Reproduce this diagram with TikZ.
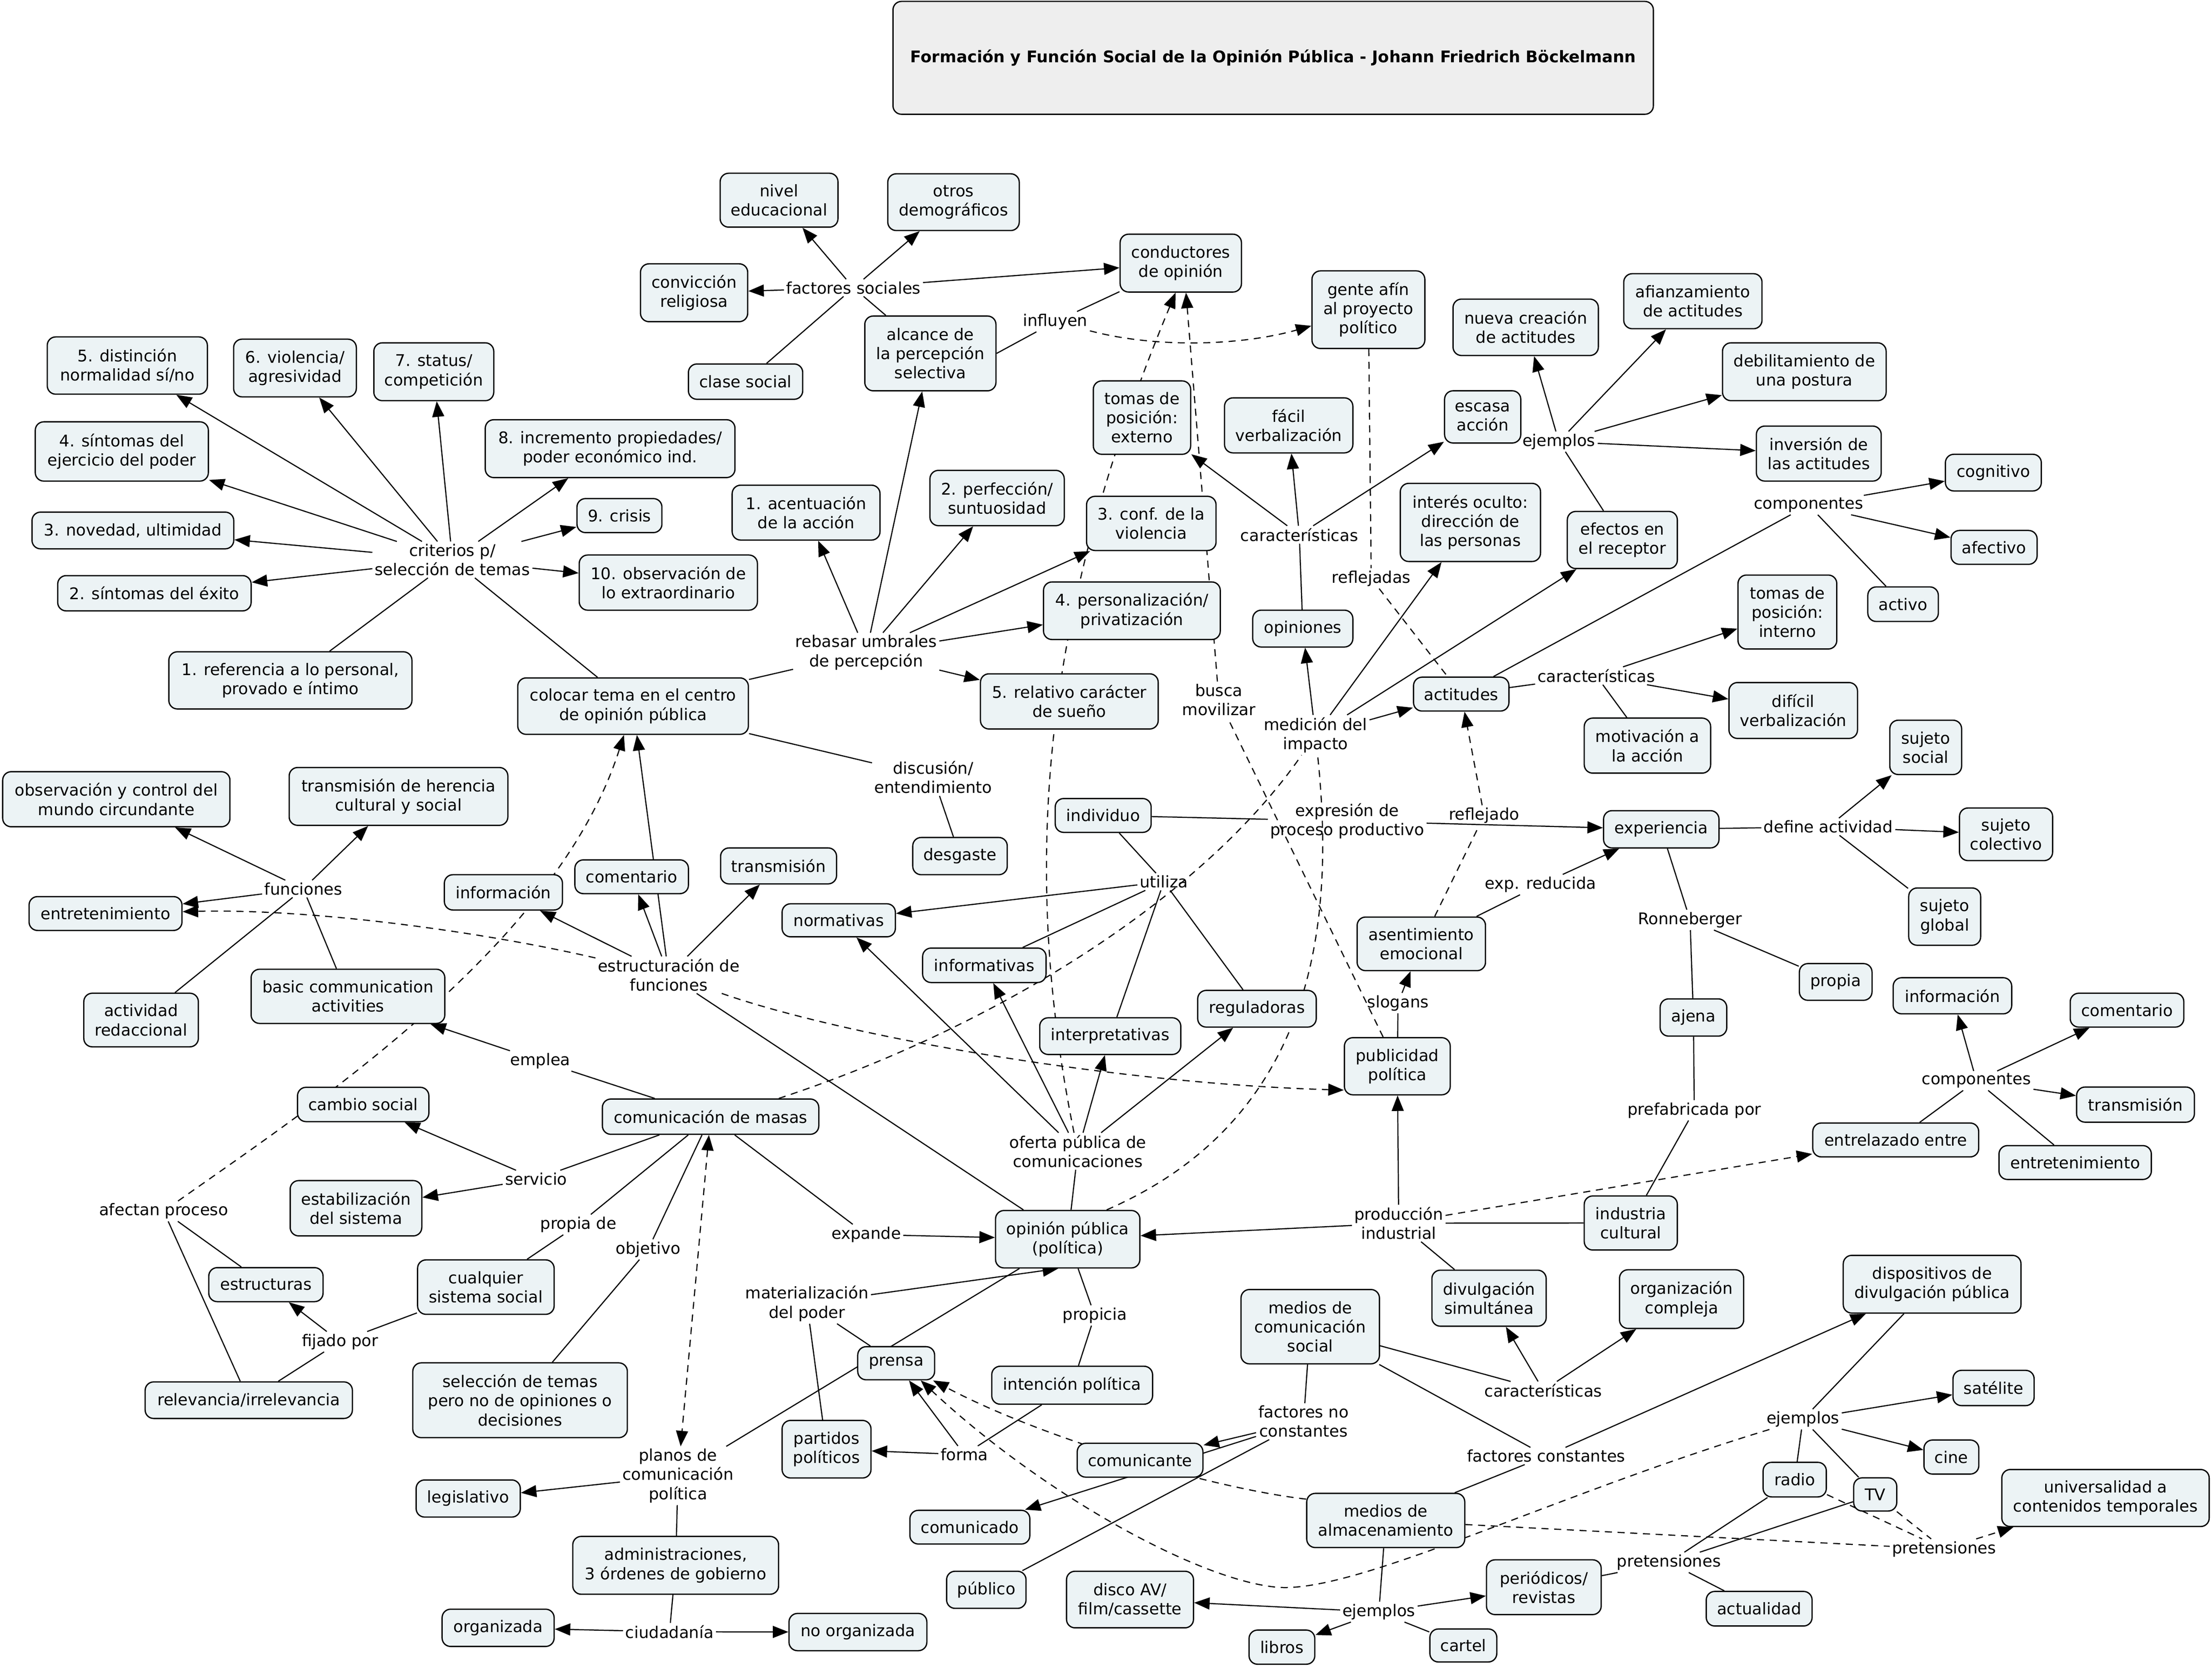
\documentclass[tikz,border=0pt]{standalone}
\usepackage{fontspec}
\setmainfont{DejaVu Sans}
\usetikzlibrary{arrows.meta}
\definecolor{cfill}{RGB}{236,243,245}
\definecolor{tfill}{RGB}{238,238,238}
\newcommand{\cf}{\fontsize{11.4pt}{13.6pt}\selectfont}
\pgfdeclarelayer{bg}\pgfdeclarelayer{edges}\pgfsetlayers{bg,edges,main}
\tikzset{
 cpt/.style={draw=black, line width=0.9pt, rounded corners=6pt, fill=cfill, align=center, inner sep=2pt, font=\cf},
 lbl/.style={align=center, inner sep=1.5pt, font=\cf},
 ln/.style={line width=0.8pt},
 ar/.style={line width=0.8pt, -{Triangle[length=11pt,width=8.5pt]}},
 dl/.style={line width=0.8pt, dash pattern=on 5pt off 4pt},
 dar/.style={dl, -{Triangle[length=11pt,width=8.5pt]}},
 dbar/.style={dl, {Triangle[length=11pt,width=8.5pt]}-{Triangle[length=11pt,width=8.5pt]}},
}
\newcommand{\mkC}[6]{%
 \pgfmathsetmacro{\myCx}{(#2+#4)/2}\pgfmathsetmacro{\myCy}{(#3+#5)/2}%
 \pgfmathsetmacro{\myCw}{#4-#2}\pgfmathsetmacro{\myCh}{#5-#3}%
 \node[cpt, minimum width=\myCw pt, minimum height=\myCh pt] (#1) at (\myCx,\myCy) {#6};}
\begin{document}
\begin{tikzpicture}[x=1pt,y=-1pt]
\useasboundingbox (0,0) rectangle (1568,1182);
\begin{pgfonlayer}{bg}
\fill[white] (0,0) rectangle (1568,1182);
\end{pgfonlayer}
% title
\node[draw=black, line width=0.9pt, rounded corners=6pt, fill=tfill, minimum width=539pt, minimum height=80pt, font=\cf\bfseries] (title) at (902.5,41) {Formación y Función Social de la Opinión Pública - Johann Friedrich Böckelmann};
% concepts
\mkC{t5}{33.5}{238.8}{147}{279.4}{5. distinción\\normalidad sí/no}
\mkC{t6}{165.6}{240.4}{252.6}{281.3}{6. violencia/\\agresividad}
\mkC{t7}{265}{243}{350}{284}{7. status/\\competición}
\mkC{t4}{25}{299}{147.7}{341}{4. síntomas del\\ejercicio del poder}
\mkC{t8}{344}{297.5}{521}{338.5}{8. incremento propiedades/\\poder económico ind.}
\mkC{t3}{22.7}{363}{165.7}{389}{3. novedad, ultimidad}
\mkC{t9}{409}{353.4}{469.2}{377.5}{9. crisis}
\mkC{t2}{40.9}{408}{178}{433}{2. síntomas del éxito}
\mkC{t10}{410.6}{393.4}{536.9}{432.5}{10. observación de\\lo extraordinario}
\mkC{t1}{119.7}{462}{292}{502.5}{1. referencia a lo personal,\\provado e íntimo}
\mkC{nivel}{510.5}{122.8}{594}{161}{nivel\\educacional}
\mkC{otros}{629.3}{123.2}{722.5}{163.4}{otros\\demográficos}
\mkC{conv}{454}{187}{530}{228}{convicción\\religiosa}
\mkC{clase}{488}{258}{569}{283}{clase social}
\mkC{alcance}{613}{224}{706}{277}{alcance de\\la percepción\\selectiva}
\mkC{cond}{794}{166}{880}{207}{conductores\\de opinión}
\mkC{gente}{930}{192}{1010}{247}{gente afín\\al proyecto\\político}
\mkC{tomasExt}{775}{270}{844}{322}{tomas de\\posición:\\externo}
\mkC{facil}{868}{282}{959}{321}{fácil\\verbalización}
\mkC{escasa}{1024}{277}{1078}{314}{escasa\\acción}
\mkC{nueva}{1030}{212}{1133}{252}{nueva creación\\de actitudes}
\mkC{afianz}{1151}{194}{1249}{233}{afianzamiento\\de actitudes}
\mkC{debil}{1221}{243}{1337}{284}{debilitamiento de\\una postura}
\mkC{invers}{1245}{302}{1333.5}{341}{inversión de\\las actitudes}
\mkC{interes}{992.6}{342.6}{1092}{398}{interés oculto:\\dirección de\\las personas}
\mkC{efectos}{1111}{362.5}{1189}{403}{efectos en\\el receptor}
\mkC{cogn}{1379}{322}{1447}{348}{cognitivo}
\mkC{afect}{1383}{376}{1444}{400}{afectivo}
\mkC{activo}{1324}{416}{1374}{440.5}{activo}
\mkC{acent}{519}{343.9}{623.8}{382.8}{1. acentuación\\de la acción}
\mkC{perf}{659.2}{333.4}{754.4}{372.6}{2. perfección/\\suntuosidad}
\mkC{conf}{770.2}{351.8}{862}{390.2}{3. conf. de la\\violencia}
\mkC{person}{739.7}{412.5}{865}{453.3}{4. personalización/\\privatización}
\mkC{sueno}{695}{477.6}{821}{516.7}{5. relativo carácter\\de sueño}
\mkC{colocar}{367}{480.5}{530.5}{520.5}{colocar tema en el centro\\de opinión pública}
\mkC{desg}{647}{593.6}{714}{620}{desgaste}
\mkC{opin}{888}{432.5}{959}{458.6}{opiniones}
\mkC{actit}{1002}{480}{1069.6}{504}{actitudes}
\mkC{tomasInt}{1232}{407.6}{1302}{460}{tomas de\\posición:\\interno}
\mkC{dific}{1225.6}{483.8}{1316.7}{523.4}{difícil\\verbalización}
\mkC{motiv}{1123}{509}{1212.6}{548}{motivación a\\la acción}
\mkC{sujSoc}{1339.6}{510.5}{1390.5}{549}{sujeto\\social}
\mkC{sujCol}{1389}{572.7}{1455}{610}{sujeto\\colectivo}
\mkC{sujGlob}{1353}{629.4}{1404}{670}{sujeto\\global}
\mkC{exper}{1136.7}{574.6}{1218.5}{601}{experiencia}
\mkC{propia}{1275.5}{683}{1327}{709}{propia}
\mkC{ajena}{1176.8}{708}{1224}{734.4}{ajena}
\mkC{indus}{1123}{847.7}{1189}{886}{industria\\cultural}
\mkC{asent}{962}{650}{1053}{688}{asentimiento\\emocional}
\mkC{public}{953}{735.5}{1028}{776}{publicidad\\política}
\mkC{indiv}{748}{566}{816}{590}{individuo}
\mkC{norm}{554.4}{640.6}{634.7}{664}{normativas}
\mkC{inform}{654}{672}{741.5}{696.4}{informativas}
\mkC{interp}{737}{721.4}{837}{747.4}{interpretativas}
\mkC{regul}{849}{702}{933}{728}{reguladoras}
\mkC{opPub}{705.7}{858}{808}{898.7}{opinión pública\\(política)}
\mkC{divulg}{1015}{900.3}{1096}{940}{divulgación\\simultánea}
\mkC{organiz}{1148}{900}{1236}{941.6}{organización\\compleja}
\mkC{medCom}{879.7}{914}{977.8}{966.7}{medios de\\comunicación\\social}
\mkC{dispos}{1306.6}{889.8}{1432.6}{930.7}{dispositivos de\\divulgación pública}
\mkC{satel}{1384.4}{971.3}{1441.9}{996.3}{satélite}
\mkC{cine}{1363.8}{1020.7}{1402.7}{1044.8}{cine}
\mkC{radio}{1249.8}{1036.5}{1294.6}{1061}{radio}
\mkC{tv}{1314}{1047.5}{1344.5}{1071}{TV}
\mkC{univ}{1419}{1041.6}{1566}{1082}{universalidad a\\contenidos temporales}
\mkC{actual}{1209.5}{1128}{1284.5}{1152.5}{actualidad}
\mkC{period}{1053.7}{1105.6}{1135}{1144.4}{periódicos/\\revistas}
\mkC{almac}{926.3}{1058.5}{1038.3}{1096.9}{medios de\\almacenamiento}
\mkC{libros}{885.4}{1155.4}{932}{1179.6}{libros}
\mkC{cartel}{1013.6}{1154.6}{1061}{1178}{cartel}
\mkC{disco}{756}{1113.7}{846}{1153.8}{disco AV/\\film/cassette}
\mkC{comunte}{763.6}{1023}{852.7}{1047}{comunicante}
\mkC{comunado}{645}{1070.5}{730}{1094.4}{comunicado}
\mkC{publico}{671}{1113.7}{727.3}{1140}{público}
\mkC{intenc}{703}{968.4}{817}{995.3}{intención política}
\mkC{prensa}{608}{954.5}{662.5}{978}{prensa}
\mkC{partidos}{554.4}{1006.8}{617.4}{1047.6}{partidos\\políticos}
\mkC{legis}{295}{1049}{368.8}{1075.3}{legislativo}
\mkC{admin}{406}{1089}{551.9}{1130}{administraciones,\\3 órdenes de gobierno}
\mkC{organ}{313.4}{1140.6}{392.8}{1167}{organizada}
\mkC{noorg}{559.3}{1143.6}{657}{1170}{no organizada}
\mkC{selec}{292.6}{966}{444.7}{1019}{selección de temas\\pero no de opiniones o\\decisiones}
\mkC{cualq}{296}{893}{392.8}{931.6}{cualquier\\sistema social}
\mkC{comMas}{427}{779}{580.4}{804}{comunicación de masas}
\mkC{estab}{205.7}{836.8}{299}{876}{estabilización\\del sistema}
\mkC{cambio}{210.9}{770.7}{304}{795}{cambio social}
\mkC{basic}{178}{687}{315.3}{725.4}{basic communication\\activities}
\mkC{estruc}{148}{898.5}{229}{922.6}{estructuras}
\mkC{relev}{102.9}{979.5}{249.8}{1005.4}{relevancia/irrelevancia}
\mkC{observ}{1.9}{547}{163}{586}{observación y control del\\mundo circundante}
\mkC{transHer}{205}{544}{360}{585}{transmisión de herencia\\cultural y social}
\mkC{entret}{20.6}{635.5}{129}{659.5}{entretenimiento}
\mkC{activRed}{59.4}{704}{140.6}{742}{actividad\\redaccional}
\mkC{informac}{315}{620}{398.7}{645}{información}
\mkC{coment}{407.5}{609.5}{488}{633.4}{comentario}
\mkC{transm}{510.8}{601}{593}{626.5}{transmisión}
\mkC{info2}{1342}{693}{1426}{718.6}{información}
\mkC{coment2}{1467.5}{704}{1548}{728}{comentario}
\mkC{trans2}{1472}{770.5}{1555.5}{795.4}{transmisión}
\mkC{entret2}{1417}{812}{1525}{836}{entretenimiento}
\mkC{entrel}{1285}{796}{1402.6}{820}{entrelazado entre}
% linking phrases
\node[lbl] (Lcrit) at (320.7,396.7) {criterios p/\\selección de temas};
\node[lbl] (Lfac) at (605,204) {factores sociales};
\node[lbl] (Linf) at (748,228) {influyen};
\node[lbl] (Lreb) at (614,462.5) {rebasar umbrales\\de percepción};
\node[lbl] (Ldisc) at (661.5,551) {discusión/\\entendimiento};
\node[lbl] (Lcar1) at (921,379) {características};
\node[lbl] (Lejem1) at (1105,313) {ejemplos};
\node[lbl] (Lrefl) at (972,410) {reflejadas};
\node[lbl] (Lbusca) at (864,496) {busca\\movilizar};
\node[lbl] (Lmed) at (932.5,521) {medición del\\impacto};
\node[lbl] (Lcomp1) at (1282,358) {componentes};
\node[lbl] (Lcar2) at (1131.5,479) {características};
\node[lbl] (Ldef) at (1296,586) {define actividad};
\node[lbl] (Lronn) at (1198,652) {Ronneberger};
\node[lbl] (Lpref) at (1201,787) {prefabricada por};
\node[lbl] (Lcomp2) at (1401,766) {componentes};
\node[lbl] (Lexpr) at (955,582) {expresión de\\proceso productivo};
\node[lbl] (Lrefj) at (1052,578) {reflejado};
\node[lbl] (Lexpred) at (1092,627) {exp. reducida};
\node[lbl] (Lslog) at (991,711) {slogans};
\node[lbl] (Luti) at (825,625) {utiliza};
\node[lbl] (Lofer) at (764,816) {oferta pública de\\comunicaciones};
\node[lbl] (Lprod) at (991.5,867) {producción\\industrial};
\node[lbl] (Lcar3) at (1094,985.5) {características};
\node[lbl] (Lfnc) at (924,1007.5) {factores no\\constantes};
\node[lbl] (Lfc) at (1096,1032) {factores constantes};
\node[lbl] (Lejem2) at (1278,1006) {ejemplos};
\node[lbl] (Lpret2) at (1378,1098) {pretensiones};
\node[lbl] (Lpret1) at (1183,1107.4) {pretensiones};
\node[lbl] (Lejem3) at (977.4,1142.5) {ejemplos};
\node[lbl] (Lprop) at (776,932.4) {propicia};
\node[lbl] (Lmat) at (572,924) {materialización\\del poder};
\node[lbl] (Lforma) at (683.6,1031) {forma};
\node[lbl] (Lplan) at (480.6,1046) {planos de\\comunicación\\política};
\node[lbl] (Lciud) at (474.6,1156.6) {ciudadanía};
\node[lbl] (Lpropde) at (410,868) {propia de};
\node[lbl] (Lobj) at (459.4,885.6) {objetivo};
\node[lbl] (Lexp) at (614,875) {expande};
\node[lbl] (Lserv) at (380,835.6) {servicio};
\node[lbl] (Lemp) at (383,752) {emplea};
\node[lbl] (Lafec) at (116,858.5) {afectan proceso};
\node[lbl] (Lfij) at (241,951) {fijado por};
\node[lbl] (Lfun) at (215,630) {funciones};
\node[lbl] (Lestr) at (474,691) {estructuración de\\funciones};
% connectors
\begin{pgfonlayer}{edges}
\draw[ln] (colocar) -- (Lcrit);
\draw[ln] (t1) -- (Lcrit);
\foreach \nd in {t5,t6,t7,t4,t3,t2,t8,t9,t10} \draw[ar] (Lcrit) -- (\nd);
\draw[ln] (alcance) -- (Lfac);
\draw[ln] (clase) -- (Lfac);
\foreach \nd in {nivel,otros,conv,cond} \draw[ar] (Lfac) -- (\nd);
\draw[ln] (alcance.east) -- (Linf);
\draw[ln] (Linf) -- (cond);
\draw[dar] (Linf) .. controls (820,247) and (880,245) .. (gente);
\draw[ln] (colocar) -- (Lreb);
\foreach \nd in {alcance,acent,perf,conf,person,sueno} \draw[ar] (Lreb) -- (\nd);
\draw[ln] (colocar) -- (Ldisc);
\draw[ln] (Ldisc) -- (desg);
\draw[ln] (basic) -- (Lfun);
\draw[ln] (activRed) -- (Lfun);
\foreach \nd in {observ,transHer,entret} \draw[ar] (Lfun) -- (\nd);
\draw[ln] (opPub) -- (Lestr);
\foreach \nd in {informac,coment,transm,colocar} \draw[ar] (Lestr) -- (\nd);
\draw[dar] (Lestr) .. controls (340,660) and (220,644) .. (entret);
\draw[dar] (Lestr) .. controls (600,735) and (790,768) .. (public.204);
\draw[dar] (Lafec) .. controls (220,785) and (395,670) .. (colocar);
\draw[ln] (estruc) -- (Lafec);
\draw[ln] (relev) -- (Lafec);
\draw[ln] (cualq) -- (Lfij);
\draw[ln] (relev) -- (Lfij);
\draw[ar] (Lfij) -- (estruc);
\draw[ln] (comMas) -- (Lpropde);
\draw[ln] (Lpropde) -- (cualq);
\draw[ln] (comMas) -- (Lobj);
\draw[ln] (Lobj) -- (selec);
\draw[ln] (comMas) -- (Lserv);
\draw[ar] (Lserv) -- (cambio);
\draw[ar] (Lserv) -- (estab);
\draw[ln] (comMas) -- (Lemp);
\draw[ar] (Lemp) -- (basic);
\draw[ln] (comMas) -- (Lexp);
\draw[ar] (Lexp) -- (opPub);
\draw[dbar] (comMas) -- (Lplan);
\draw[ln] (opPub) -- (Lplan);
\draw[ar] (Lplan) -- (legis);
\draw[ln] (Lplan) -- (admin);
\draw[ln] (admin) -- (Lciud);
\draw[ar] (Lciud) -- (organ);
\draw[ar] (Lciud) -- (noorg);
\draw[ln] (prensa) -- (Lmat);
\draw[ln] (partidos) -- (Lmat);
\draw[ar] (Lmat) -- (opPub.-108);
\draw[ln] (intenc) -- (Lforma);
\draw[ar] (Lforma) -- (partidos);
\draw[ar] (Lforma) -- (prensa);
\draw[ln] (opPub) -- (Lprop);
\draw[ln] (Lprop) -- (intenc);
\draw[ln] (medCom) -- (Lfnc);
\draw[ar] (Lfnc) -- (comunte);
\draw[ar] (Lfnc) -- (comunado);
\draw[ln] (Lfnc) -- (publico);
\draw[ln] (medCom) -- (Lcar3);
\draw[ar] (Lcar3) -- (divulg);
\draw[ar] (Lcar3) -- (organiz);
\draw[ln] (medCom) -- (Lfc);
\draw[ar] (Lfc) -- (dispos);
\draw[ln] (Lfc) -- (almac);
\draw[ln] (dispos) -- (Lejem2);
\draw[ar] (Lejem2) -- (satel);
\draw[ar] (Lejem2) -- (cine);
\draw[ln] (Lejem2) -- (radio);
\draw[ln] (Lejem2) -- (tv);
\draw[dar] (Lejem2) .. controls (1100,1060) and (960,1130) .. (905,1125) .. controls (850,1120) and (740,1060) .. (prensa.-35);
\draw[dar] (almac.165) .. controls (860,1055) and (740,1020) .. (prensa.-25);
\draw[dl] (almac) -- (Lpret2);
\draw[dl] (radio) -- (Lpret2);
\draw[dl] (tv) -- (Lpret2);
\draw[dar] (Lpret2) -- (univ);
\draw[ln] (almac) -- (Lejem3);
\draw[ar] (Lejem3) -- (disco);
\draw[ar] (Lejem3) -- (libros);
\draw[ar] (Lejem3) -- (period);
\draw[ln] (Lejem3) -- (cartel);
\draw[ln] (period) -- (Lpret1);
\draw[ln] (Lpret1) -- (actual);
\draw[ln] (Lpret1) -- (radio);
\draw[ln] (Lpret1) -- (tv);
\draw[dar] (Lofer) .. controls (720,600) and (745,420) .. (cond.-100);
\draw[dl] (public) -- (Lbusca);
\draw[dar] (Lbusca) -- (cond.-80);
\draw[dl] (opPub.37) .. controls (940,790) and (945,640) .. (Lmed);
\draw[dl] (comMas.15) .. controls (700,730) and (850,640) .. (Lmed);
\foreach \nd in {actit,opin,interes,efectos} \draw[ar] (Lmed) -- (\nd);
\draw[dl] (gente) -- (Lrefl);
\draw[dl] (Lrefl) -- (actit);
\draw[dl] (asent) -- (Lrefj);
\draw[dar] (Lrefj) -- (actit);
\draw[ln] (opin) -- (Lcar1);
\foreach \nd in {tomasExt,facil,escasa} \draw[ar] (Lcar1) -- (\nd);
\draw[ln] (efectos) -- (Lejem1);
\foreach \nd in {nueva,afianz,debil,invers} \draw[ar] (Lejem1) -- (\nd);
\draw[ln] (actit) -- (Lcomp1);
\draw[ar] (Lcomp1) -- (cogn);
\draw[ar] (Lcomp1) -- (afect);
\draw[ln] (Lcomp1) -- (activo);
\draw[ln] (actit) -- (Lcar2);
\draw[ar] (Lcar2) -- (tomasInt);
\draw[ar] (Lcar2) -- (dific);
\draw[ln] (Lcar2) -- (motiv);
\draw[ln] (indiv) -- (Lexpr);
\draw[ar] (Lexpr) -- (exper);
\draw[ln] (indiv) -- (Luti);
\draw[ar] (Luti) -- (norm);
\foreach \nd in {inform,interp,regul} \draw[ln] (Luti) -- (\nd);
\draw[ln] (opPub) -- (Lofer);
\foreach \nd in {norm,inform,interp,regul} \draw[ar] (Lofer) -- (\nd);
\draw[ar] (Lprod) -- (public);
\draw[ar] (Lprod) -- (opPub);
\draw[ln] (Lprod) -- (indus);
\draw[ln] (Lprod) -- (divulg);
\draw[dar] (Lprod) -- (entrel);
\draw[ln] (public) -- (Lslog);
\draw[ar] (Lslog) -- (asent);
\draw[ln] (asent) -- (Lexpred);
\draw[ar] (Lexpred) -- (exper);
\draw[ln] (exper) -- (Ldef);
\draw[ar] (Ldef) -- (sujSoc);
\draw[ar] (Ldef) -- (sujCol);
\draw[ln] (Ldef) -- (sujGlob);
\draw[ln] (exper) -- (Lronn);
\draw[ln] (Lronn) -- (propia);
\draw[ln] (Lronn) -- (ajena);
\draw[ln] (ajena) -- (Lpref);
\draw[ln] (Lpref) -- (indus);
\draw[ln] (entrel) -- (Lcomp2);
\foreach \nd in {info2,coment2,trans2} \draw[ar] (Lcomp2) -- (\nd);
\draw[ln] (Lcomp2) -- (entret2);
\end{pgfonlayer}
\end{tikzpicture}
\end{document}
